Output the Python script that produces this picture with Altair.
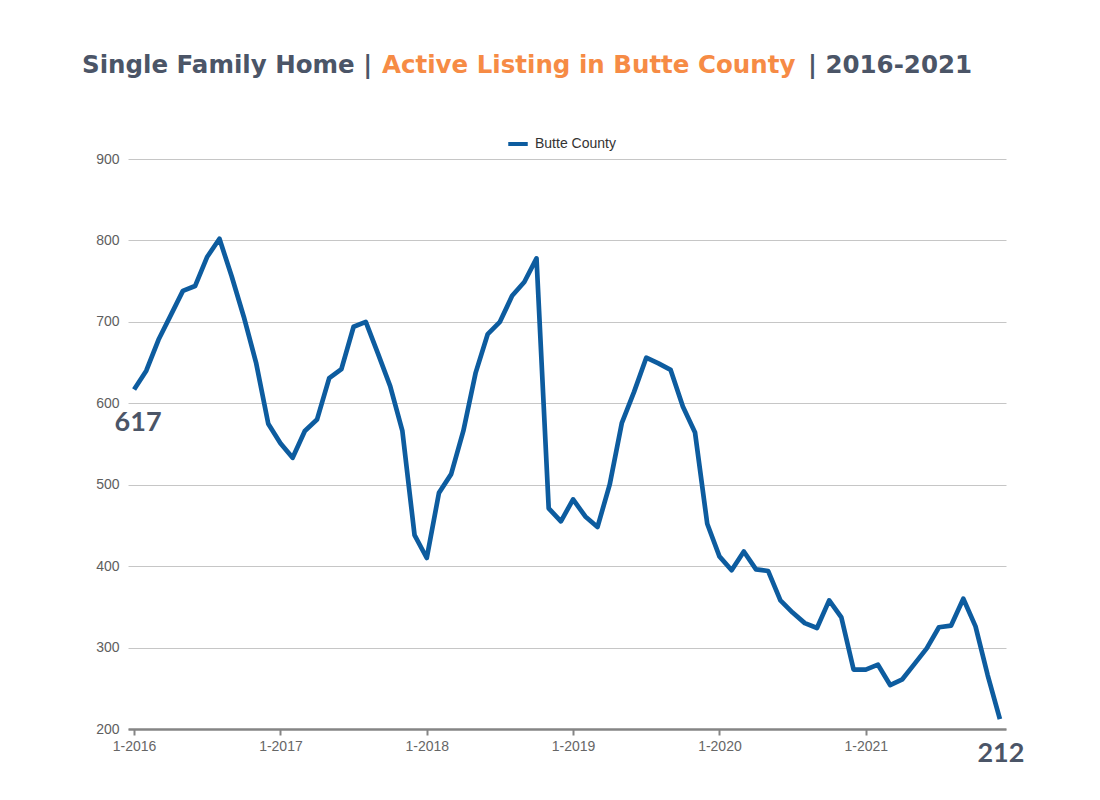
import altair as alt
import pandas as pd

# Monthly active single-family listings, Butte County, Jan 2016 - Dec 2021
listings = [
    617, 640, 678, 708, 738, 744, 780, 802, 756, 706, 650, 575,
    551, 533, 566, 580, 631, 642, 694, 700, 661, 621, 566, 438,
    410, 490, 513, 566, 637, 685, 700, 732, 749, 778, 471, 455,
    482, 461, 448, 500, 576, 614, 656, 649, 641, 596, 564, 452,
    412, 395, 418, 396, 394, 358, 343, 330, 324, 358, 337, 273,
    273, 279, 254, 261, 280, 299, 325, 327, 360, 326, 266, 212,
]
series_name = "Butte County"
first_year = 2016
x_tick_months = [0, 12, 24, 36, 48, 60]
y_ticks = [200, 300, 400, 500, 600, 700, 800, 900]
title_parts = ["Single Family Home |", "Active Listing in Butte County", "| 2016-2021"]

SLATE = "#4B5567"
ORANGE = "#F68B45"
BLUE = "#0D5C9F"

df = pd.DataFrame({
    "month": list(range(len(listings))),
    "listings": listings,
    "series": series_name,
})

W, H = 878, 570

x_enc = alt.X(
    "month:Q",
    scale=alt.Scale(domain=[-0.5, len(listings) - 0.5], nice=False, zero=False),
    axis=alt.Axis(
        values=x_tick_months,
        labelExpr=f"'1-' + ({first_year} + datum.value / 12)",
        title=None,
        grid=False,
        domainColor="#858585",
        domainWidth=2.5,
        tickColor="#858585",
        tickWidth=2,
        tickSize=6,
        labelPadding=4,
        labelColor="#666666",
        labelFont="Liberation Sans",
        labelFontSize=14,
    ),
)
y_enc = alt.Y(
    "listings:Q",
    scale=alt.Scale(domain=[200, 900], nice=False, zero=False),
    axis=alt.Axis(
        values=y_ticks,
        title=None,
        domain=False,
        ticks=False,
        grid=True,
        gridColor="#C6C6C6",
        gridWidth=1,
        labelPadding=9,
        labelColor="#5E5E5E",
        labelFont="Liberation Sans",
        labelFontSize=14,
    ),
)

line = alt.Chart(df).mark_line(strokeWidth=4.7, strokeJoin="round").encode(
    x=x_enc,
    y=y_enc,
    color=alt.Color(
        "series:N",
        scale=alt.Scale(range=[BLUE]),
        legend=alt.Legend(
            title=None,
            orient="none",
            legendX=378,
            legendY=-27,
            symbolType="stroke",
            symbolStrokeWidth=4,
            symbolSize=380,
            labelOffset=5,
            labelFont="Liberation Sans",
            labelFontSize=14,
            labelColor="#333333",
            padding=0,
        ),
    ),
)

# End-point value callouts
first_pt = alt.Chart(df.head(1)).mark_text(
    font="Lato", fontWeight="bold", fontSize=27, color=SLATE,
    dx=4, dy=34, baseline="middle", align="center",
).encode(x="month:Q", y="listings:Q", text="listings:Q")

last_pt = alt.Chart(df.tail(1)).mark_text(
    font="Lato", fontWeight="bold", fontSize=27, color=SLATE,
    dx=1, dy=35, baseline="middle", align="center",
).encode(x="month:Q", y="listings:Q", text="listings:Q")

# Two-colour headline
title_x = [-46, 254, 680]
title_colors = [SLATE, ORANGE, SLATE]
title_layers = [
    alt.Chart(df.head(1)).mark_text(
        text=part, font="DejaVu Sans", fontWeight="bold", fontSize=24.5,
        color=col, align="left", baseline="alphabetic",
    ).encode(x=alt.value(xp), y=alt.value(-86))
    for part, col, xp in zip(title_parts, title_colors, title_x)
]

chart = alt.layer(line, first_pt, last_pt, *title_layers).properties(
    width=W,
    height=H,
    autosize=alt.AutoSizeParams(type="none"),
    padding={"left": 128, "top": 159, "right": 94, "bottom": 71},
    background="white",
).configure_view(stroke=None)

chart.save("out.html", embed_options={"renderer": "svg", "actions": False})
